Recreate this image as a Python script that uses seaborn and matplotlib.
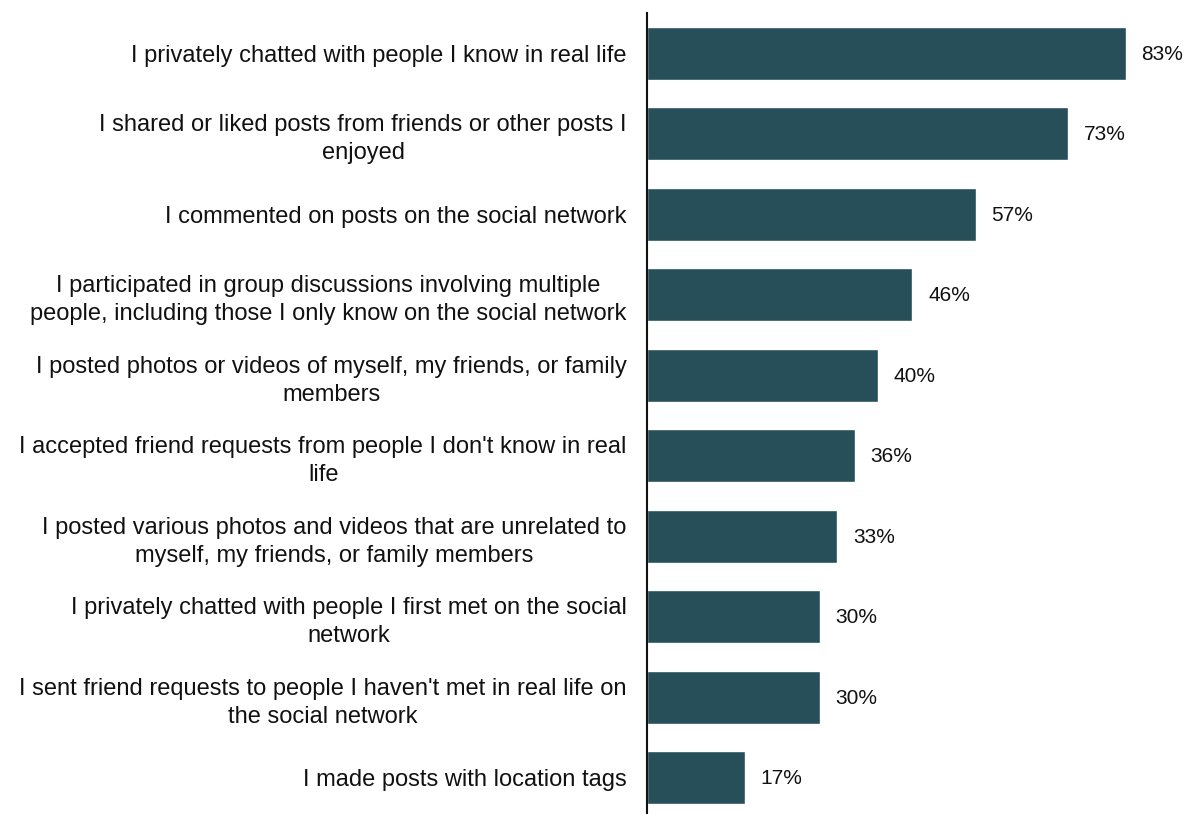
import matplotlib
matplotlib.use("Agg")
import matplotlib.pyplot as plt
import seaborn as sns
import pandas as pd

activities = [
    "I privately chatted with people I know in real life",
    "I shared or liked posts from friends or other posts I\nenjoyed",
    "I commented on posts on the social network",
    "I participated in group discussions involving multiple\npeople, including those I only know on the social network",
    "I posted photos or videos of myself, my friends, or family\nmembers",
    "I accepted friend requests from people I don't know in real\nlife",
    "I posted various photos and videos that are unrelated to\nmyself, my friends, or family members",
    "I privately chatted with people I first met on the social\nnetwork",
    "I sent friend requests to people I haven't met in real life on\nthe social network",
    "I made posts with location tags",
]
shares = [83, 73, 57, 46, 40, 36, 33, 30, 30, 17]

df = pd.DataFrame({"activity": activities, "share": shares})

sns.set_theme(style="white")
plt.rcParams["font.family"] = ["Liberation Sans", "DejaVu Sans"]

fig = plt.figure(figsize=(11.86, 8.14), dpi=100)
ax = fig.add_axes([647 / 1186, 0.0, 1 - 647 / 1186, (814 - 13) / 814])

bar_color = "#264f5a"
sns.barplot(data=df, x="share", y="activity", orient="h", color=bar_color,
            width=0.66, saturation=1, ax=ax)

ax.set_xlim(0, 93.4)
ax.set_ylim(9.45, -0.5)

for i, v in enumerate(shares):
    ax.text(v + 2.7, i + 0.01, f"{v}%", va="center", ha="left", fontsize=15, color="#111111")

ax.set_xlabel("")
ax.set_ylabel("")
ax.set_xticks([])
ax.tick_params(axis="y", length=0, pad=14.5)
for lbl in ax.get_yticklabels():
    lbl.set_fontsize(17)
    lbl.set_multialignment("center")
    lbl.set_linespacing(1.36)
    lbl.set_color("#111111")

for side in ["top", "right", "bottom"]:
    ax.spines[side].set_visible(False)
ax.spines["left"].set_color("#111111")
ax.spines["left"].set_linewidth(1.5)

fig.savefig("out.png", dpi=100)
